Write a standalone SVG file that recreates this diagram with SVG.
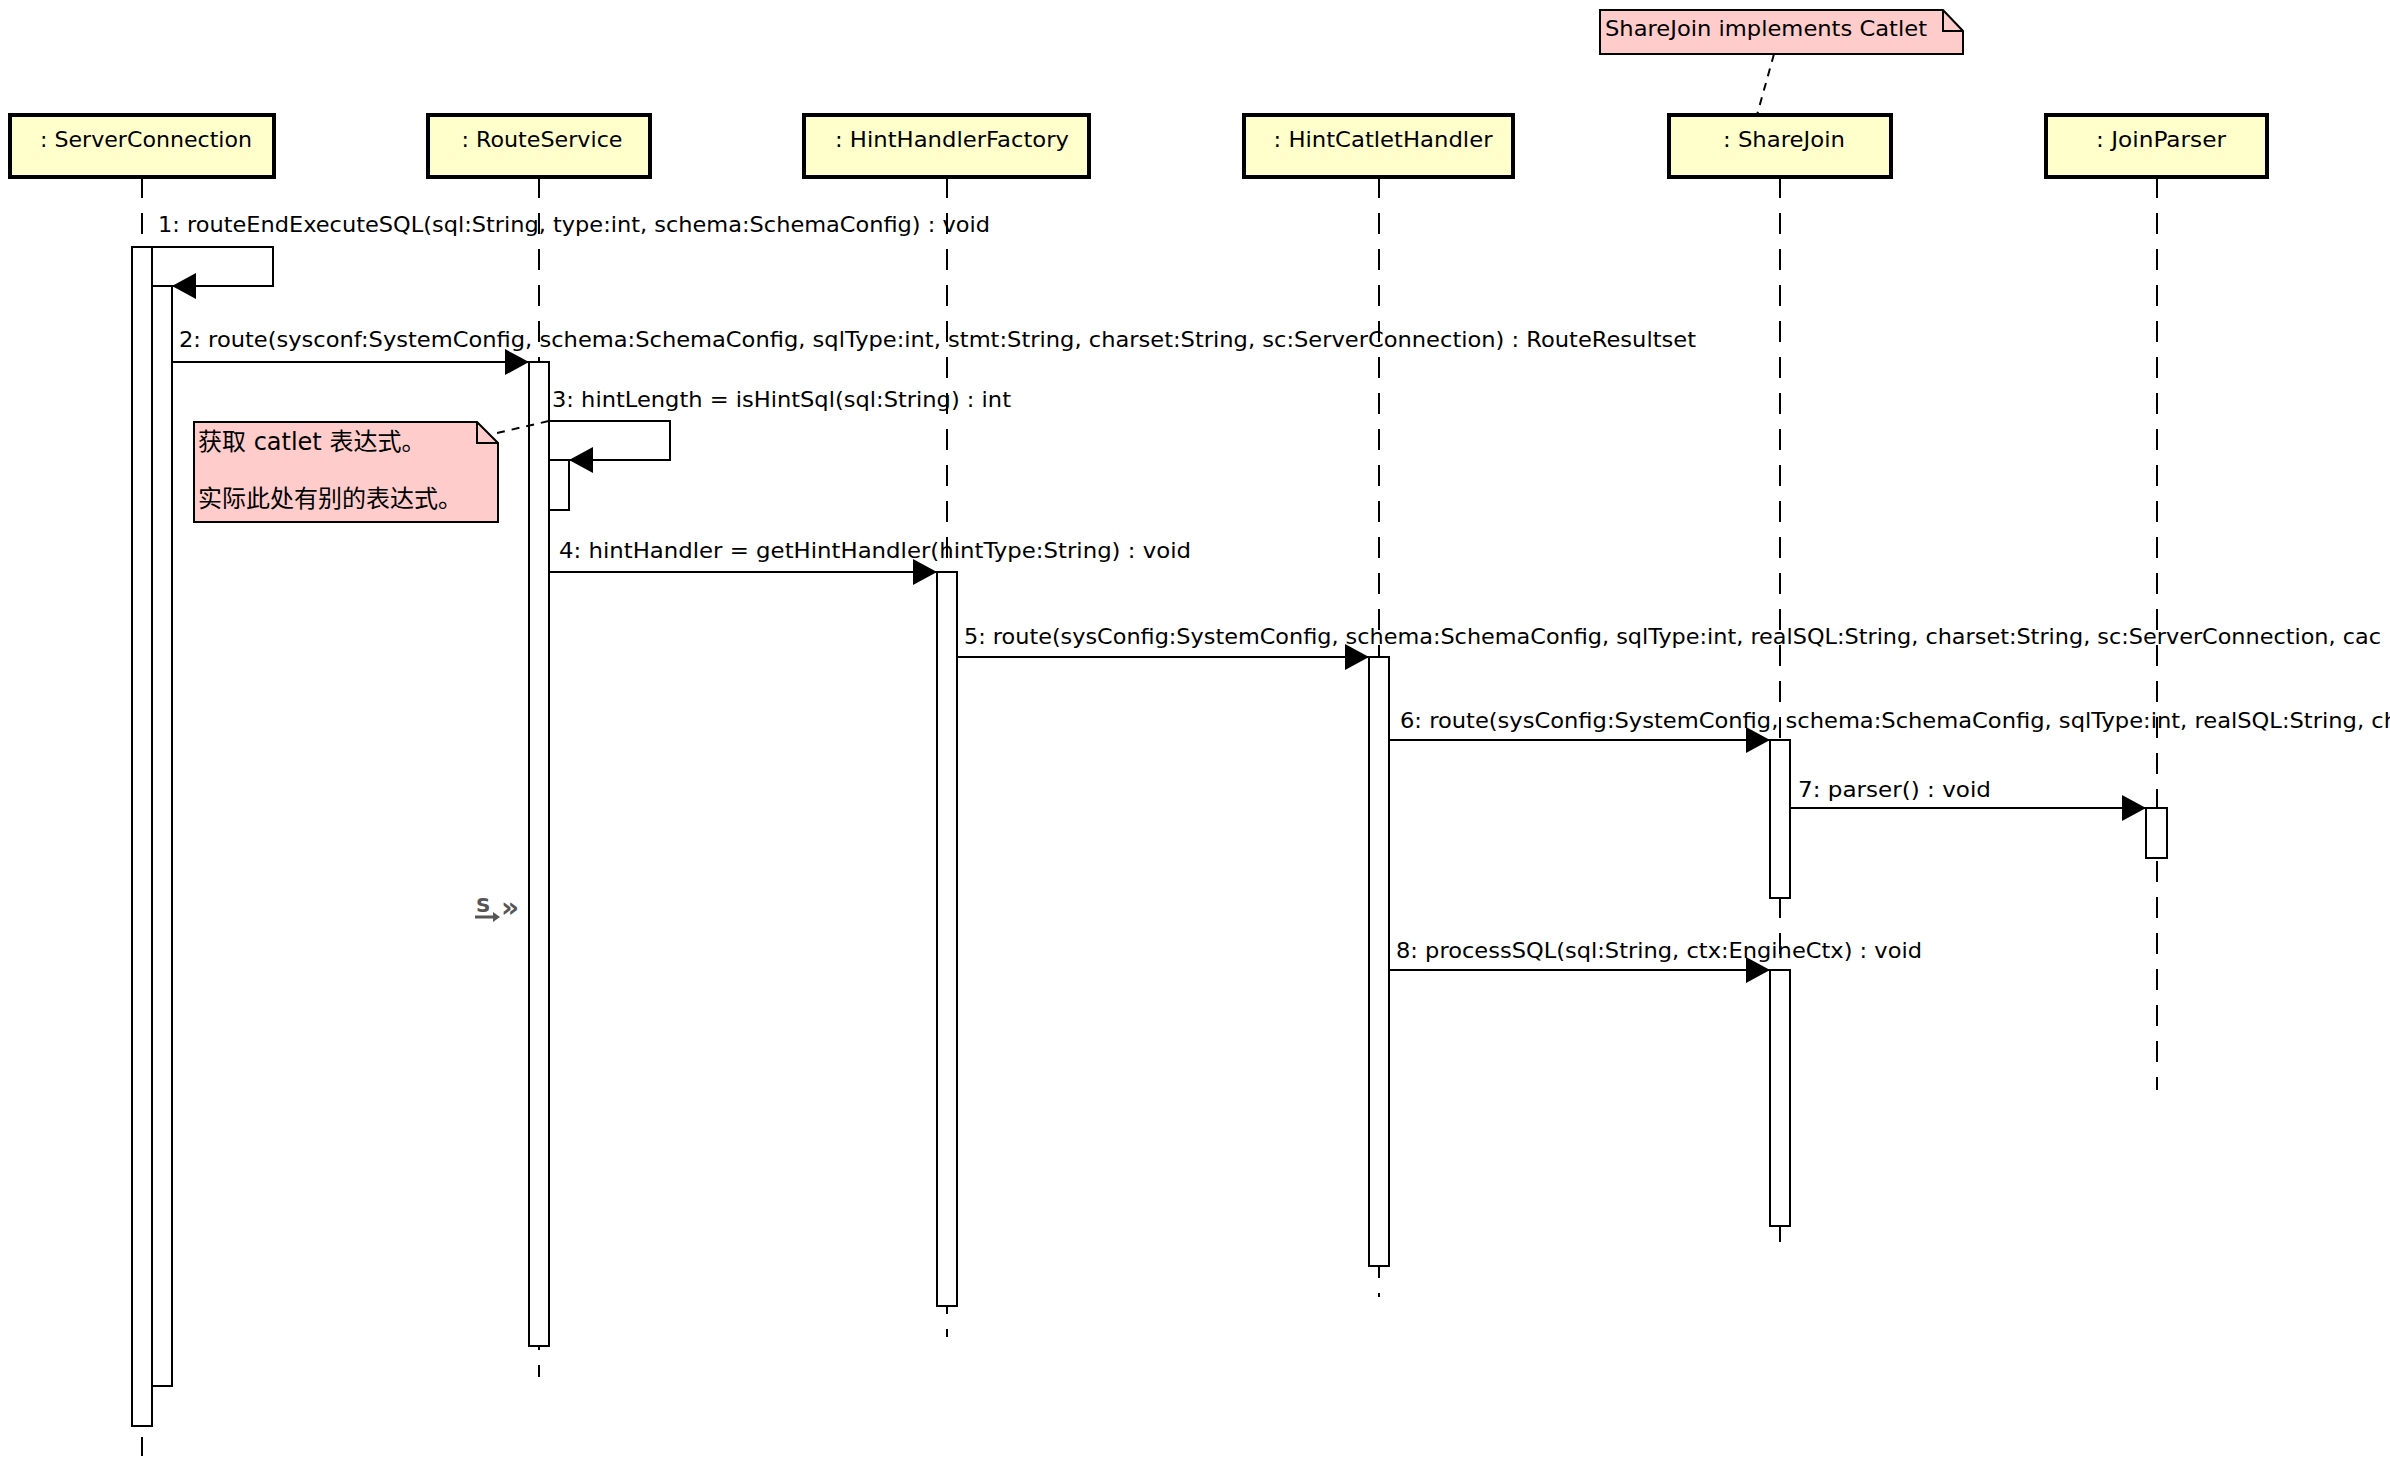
<svg xmlns="http://www.w3.org/2000/svg" width="2390" height="1466" viewBox="0 0 2390 1466">
<defs>
<style>
text{font-family:"DejaVu Sans","Noto Sans CJK SC",sans-serif;font-size:22px;fill:#000}
.hdr{fill:#ffffcc;stroke:#000;stroke-width:4}
.life{stroke:#000;stroke-width:2;stroke-dasharray:21 15;fill:none}
.act{fill:#fff;stroke:#000;stroke-width:2}
.msg{stroke:#000;stroke-width:2;fill:none;marker-end:url(#arr)}
.note{fill:#ffcccc;stroke:#000;stroke-width:2}
.fold{fill:none;stroke:#000;stroke-width:2}
.anchor{stroke:#000;stroke-width:2;stroke-dasharray:8 7;fill:none}
.cjk{font-size:24px}
.ico{fill:#555;font-weight:bold}
</style>
<marker id="arr" markerUnits="userSpaceOnUse" markerWidth="24" markerHeight="26" refX="24" refY="13" orient="auto">
<path d="M0,0 L24,13 L0,26 Z" fill="#000"/>
</marker>
</defs>
<rect width="2390" height="1466" fill="#fff"/>

<g id="ServerConnection">
<line class="life" x1="142" y1="177" x2="142" y2="1456"/>
<rect class="act" x="132" y="247" width="20" height="1179"/>
<rect class="act" x="152" y="286" width="20" height="1100"/>
<rect class="hdr" x="10" y="115" width="264" height="62"/>
<text x="146" y="147" text-anchor="middle" textLength="212" lengthAdjust="spacingAndGlyphs">: ServerConnection</text>
</g>

<g id="RouteService">
<line class="life" x1="539" y1="177" x2="539" y2="1377"/>
<rect class="act" x="529" y="362" width="20" height="984"/>
<rect class="act" x="549" y="460" width="20" height="50"/>
<rect class="hdr" x="428" y="115" width="222" height="62"/>
<text x="542" y="147" text-anchor="middle" textLength="161" lengthAdjust="spacingAndGlyphs">: RouteService</text>
</g>

<g id="HintHandlerFactory">
<line class="life" x1="947" y1="177" x2="947" y2="1337"/>
<rect class="act" x="937" y="572" width="20" height="734"/>
<rect class="hdr" x="804" y="115" width="285" height="62"/>
<text x="952" y="147" text-anchor="middle" textLength="234" lengthAdjust="spacingAndGlyphs">: HintHandlerFactory</text>
</g>

<g id="HintCatletHandler">
<line class="life" x1="1379" y1="177" x2="1379" y2="1297"/>
<rect class="act" x="1369" y="657" width="20" height="609"/>
<rect class="hdr" x="1244" y="115" width="269" height="62"/>
<text x="1383" y="147" text-anchor="middle" textLength="219" lengthAdjust="spacingAndGlyphs">: HintCatletHandler</text>
</g>

<g id="ShareJoin">
<line class="life" x1="1780" y1="177" x2="1780" y2="1243"/>
<rect class="act" x="1770" y="740" width="20" height="158"/>
<rect class="act" x="1770" y="970" width="20" height="256"/>
<rect class="hdr" x="1669" y="115" width="222" height="62"/>
<text x="1784" y="147" text-anchor="middle" textLength="122" lengthAdjust="spacingAndGlyphs">: ShareJoin</text>
</g>

<g id="JoinParser">
<line class="life" x1="2157" y1="177" x2="2157" y2="1090"/>
<rect class="act" x="2146" y="808" width="21" height="50"/>
<rect class="hdr" x="2046" y="115" width="221" height="62"/>
<text x="2161" y="147" text-anchor="middle" textLength="130" lengthAdjust="spacingAndGlyphs">: JoinParser</text>
</g>

<g id="note-catlet">
<path class="note" d="M194,422 H477 L498,443 V522 H194 Z"/>
<path class="fold" d="M477,422 V443 H498"/>
<text class="cjk" x="198" y="450">获取 catlet 表达式。</text>
<text class="cjk" x="198" y="507">实际此处有别的表达式。</text>
</g>

<g id="note-sharejoin">
<path class="note" d="M1600,10 H1943 L1963,31 V54 H1600 Z"/>
<path class="fold" d="M1943,10 V31 H1963"/>
<text x="1605" y="36" textLength="322" lengthAdjust="spacingAndGlyphs">ShareJoin implements Catlet</text>
</g>

<g id="icon">
<text class="ico" x="476" y="912" style="font-size:20px">S</text>
<path d="M475,917 H494" stroke="#555" stroke-width="3" fill="none"/>
<path d="M493,912 L500,917 L493,922 Z" fill="#555"/>
<text class="ico" x="501" y="917" style="font-size:28px">»</text>
</g>

<g id="connectors">
<path class="anchor" d="M497,433 L549,421"/>
<path class="anchor" d="M1774,54 L1757,115"/>
<path class="msg" d="M152,247 H273 V286 H172"/>
<text x="158" y="232" textLength="832" lengthAdjust="spacingAndGlyphs">1: routeEndExecuteSQL(sql:String, type:int, schema:SchemaConfig) : void</text>
<path class="msg" d="M172,362 H529"/>
<text x="179" y="347" textLength="1517" lengthAdjust="spacingAndGlyphs">2: route(sysconf:SystemConfig, schema:SchemaConfig, sqlType:int, stmt:String, charset:String, sc:ServerConnection) : RouteResultset</text>
<path class="msg" d="M549,421 H670 V460 H569"/>
<text x="552" y="407" textLength="459" lengthAdjust="spacingAndGlyphs">3: hintLength = isHintSql(sql:String) : int</text>
<path class="msg" d="M549,572 H937"/>
<text x="559" y="558" textLength="632" lengthAdjust="spacingAndGlyphs">4: hintHandler = getHintHandler(hintType:String) : void</text>
<path class="msg" d="M957,657 H1369"/>
<text x="964" y="644" textLength="1417" lengthAdjust="spacingAndGlyphs">5: route(sysConfig:SystemConfig, schema:SchemaConfig, sqlType:int, realSQL:String, charset:String, sc:ServerConnection, cac</text>
<path class="msg" d="M1389,740 H1770"/>
<text x="1400" y="728" textLength="998" lengthAdjust="spacingAndGlyphs">6: route(sysConfig:SystemConfig, schema:SchemaConfig, sqlType:int, realSQL:String, ch</text>
<path class="msg" d="M1790,808 H2146"/>
<text x="1798" y="797" textLength="193" lengthAdjust="spacingAndGlyphs">7: parser() : void</text>
<path class="msg" d="M1389,970 H1770"/>
<text x="1396" y="958" textLength="526" lengthAdjust="spacingAndGlyphs">8: processSQL(sql:String, ctx:EngineCtx) : void</text>
</g>
</svg>
